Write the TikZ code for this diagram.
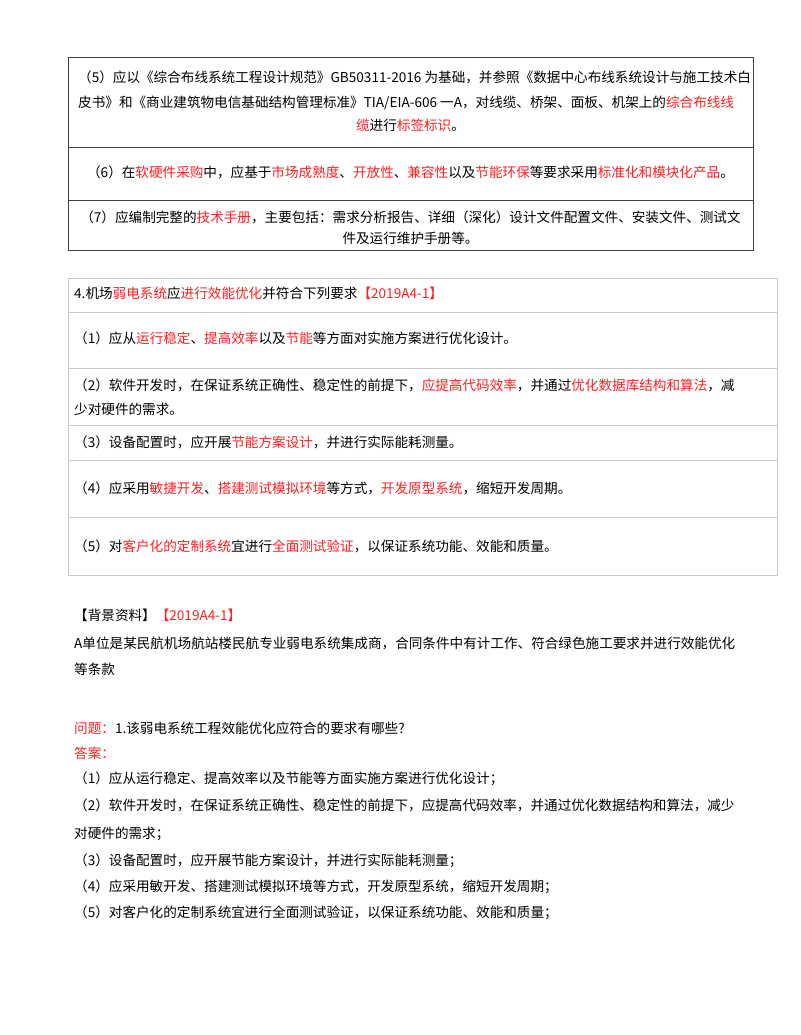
\documentclass[tikz,border=0pt]{standalone}
\usepackage{fontspec}
\setmainfont{Noto Sans CJK SC}
\definecolor{rd}{HTML}{FF2020}
\definecolor{lg}{HTML}{C8C8C8}
\newcommand{\R}[1]{\textcolor{rd}{#1}}
\begin{document}
\begin{tikzpicture}[x=1pt,y=-1pt,
  ln/.style={anchor=base west,inner sep=0pt,font=\fontsize{13.6}{16}\selectfont},
  lc/.style={anchor=base,inner sep=0pt,font=\fontsize{13.6}{16}\selectfont}]
\useasboundingbox[fill=white] (0,0) rectangle (800,1035);
% table 1
\draw[line width=1pt,black!75] (68,58) rectangle (753,250);
\draw[line width=1pt,black!75] (68,148) -- (753,148) (68,200) -- (753,200);
\node[ln] (t1a1) at (78,83) {（5）应以《综合布线系统工程设计规范》GB50311-2016 为基础，并参照《数据中心布线系统设计与施工技术白};
\node[ln] (t1a2) at (78,108) {皮书》和《商业建筑物电信基础结构管理标准》TIA/EIA-606 一A，对线缆、桥架、面板、机架上的\R{综合布线线}};
\node[lc] (t1a3) at (410.5,131) {\R{缆}进行\R{标签标识}。};
\node[lc] (t1b) at (410.5,178) {（6）在\R{软硬件采购}中，应基于\R{市场成熟度}、\R{开放性}、\R{兼容性}以及\R{节能环保}等要求采用\R{标准化和模块化产品}。};
\node[lc] (t1c1) at (410.5,222) {（7）应编制完整的\R{技术手册}，主要包括：需求分析报告、详细（深化）设计文件配置文件、安装文件、测试文};
\node[lc] (t1c2) at (410.5,243) {件及运行维护手册等。};
% table 2
\draw[line width=1pt,lg] (68,278) rectangle (777,575);
\foreach \y in {312,368,425,460,517} \draw[line width=1pt,lg] (68,\y) -- (777,\y);
\node[ln] (h) at (74,298) {4.机场\R{弱电系统}应\R{进行效能优化}并符合下列要求\R{【2019A4-1】}};
\node[ln] (r1) at (74,343) {（1）应从\R{运行稳定}、\R{提高效率}以及\R{节能}等方面对实施方案进行优化设计。};
\node[ln] (r2a) at (74,390) {（2）软件开发时，在保证系统正确性、稳定性的前提下，\R{应提高代码效率}，并通过\R{优化数据库结构和算法}，减};
\node[ln] (r2b) at (74,414) {少对硬件的需求。};
\node[ln] (r3) at (74,447) {（3）设备配置时，应开展\R{节能方案设计}，并进行实际能耗测量。};
\node[ln] (r4) at (74,493) {（4）应采用\R{敏捷开发}、\R{搭建测试模拟环境}等方式，\R{开发原型系统}，缩短开发周期。};
\node[ln] (r5) at (74,551) {（5）对\R{客户化的定制系统}宜进行\R{全面测试验证}，以保证系统功能、效能和质量。};
% text below
\node[ln] (bg) at (74,620) {【背景资料】\R{【2019A4-1】}};
\node[ln] (a1l) at (74,648) {A单位是某民航机场航站楼民航专业弱电系统集成商，合同条件中有计工作、符合绿色施工要求并进行效能优化};
\node[ln] (a2l) at (74,674) {等条款};
\node[ln] (q) at (74,733) {\R{问题：}1.该弱电系统工程效能优化应符合的要求有哪些?};
\node[ln] (ans) at (74,758) {\R{答案：}};
\node[ln] (a1) at (74,783) {（1）应从运行稳定、提高效率以及节能等方面实施方案进行优化设计；};
\node[ln] (a2a) at (74,810) {（2）软件开发时，在保证系统正确性、稳定性的前提下，应提高代码效率，并通过优化数据结构和算法，减少};
\node[ln] (a2b) at (74,838) {对硬件的需求；};
\node[ln] (a3) at (74,865) {（3）设备配置时，应开展节能方案设计，并进行实际能耗测量；};
\node[ln] (a4) at (74,891) {（4）应采用敏开发、搭建测试模拟环境等方式，开发原型系统，缩短开发周期；};
\node[ln] (a5) at (74,917) {（5）对客户化的定制系统宜进行全面测试验证，以保证系统功能、效能和质量；};
\end{tikzpicture}
\end{document}
